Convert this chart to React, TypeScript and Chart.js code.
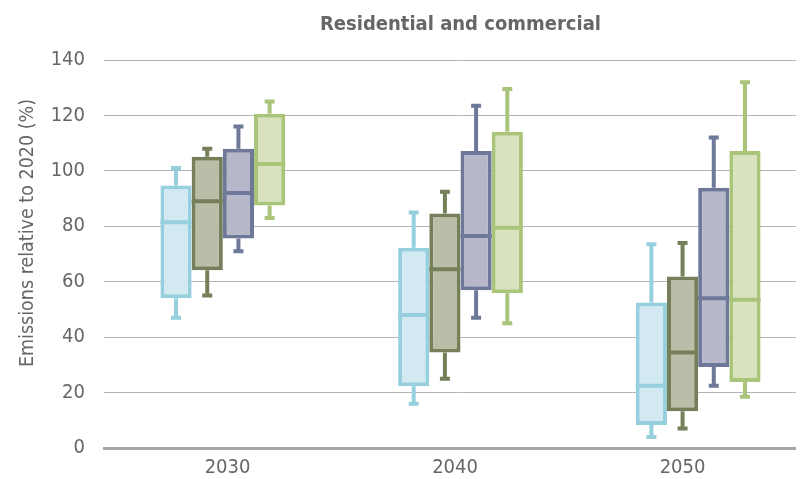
import React, { useEffect, useRef } from 'react';
import { Chart, registerables } from 'chart.js';

Chart.register(...registerables);

const categories = ['2030', '2040', '2050'];
const seriesNames = ['Series 1', 'Series 2', 'Series 3', 'Series 4'];
const chartTitle = 'Residential and commercial';
const yAxisTitle = 'Emissions relative to 2020 (%)';

// Series 1 (light blue)
const s1Min = [47, 16, 4];
const s1Q1 = [54, 22.3, 8.3];
const s1Median = [81.5, 48, 22.5];
const s1Q3 = [94.7, 72.3, 52.5];
const s1Max = [101, 85, 73.5];

// Series 2 (olive)
const s2Min = [55, 25, 7];
const s2Q1 = [64.1, 34.5, 13.3];
const s2Median = [89, 64.5, 34.5];
const s2Q3 = [105.1, 84.6, 61.9];
const s2Max = [108, 92.5, 74];

// Series 3 (slate)
const s3Min = [71, 47, 22.5];
const s3Q1 = [75.6, 56.9, 29.2];
const s3Median = [92, 76.5, 54];
const s3Q3 = [108, 107.2, 93.9];
const s3Max = [116, 123.5, 112];

// Series 4 (green)
const s4Min = [83, 45, 18.5];
const s4Q1 = [87.5, 55.8, 23.8];
const s4Median = [102.5, 79.5, 53.5];
const s4Q3 = [120.6, 114.1, 107.2];
const s4Max = [125, 129.5, 132];

const yTicks = [0, 20, 40, 60, 80, 100, 120, 140];

const borderColors = ['#96CFDE', '#75805A', '#6E7898', '#AAC47A'];
const fillColors = ['#D2E9F1', '#BABDA8', '#B6B8CA', '#D8E2BE'];

const stats = [
  { min: s1Min, q1: s1Q1, med: s1Median, q3: s1Q3, max: s1Max },
  { min: s2Min, q1: s2Q1, med: s2Median, q3: s2Q3, max: s2Max },
  { min: s3Min, q1: s3Q1, med: s3Median, q3: s3Q3, max: s3Max },
  { min: s4Min, q1: s4Q1, med: s4Median, q3: s4Q3, max: s4Max },
];

const FONT = "'DejaVu Sans Condensed', 'DejaVu Sans', sans-serif";
const TEXT = '#666666';

const whiskerPlugin = {
  id: 'boxWhiskers',
  afterDatasetsDraw(chart: any) {
    const { ctx } = chart;
    const y = chart.scales.y;
    chart.data.datasets.forEach((_ds: any, i: number) => {
      const meta = chart.getDatasetMeta(i);
      const st = stats[i];
      meta.data.forEach((bar: any, j: number) => {
        const { x, width } = bar.getProps(['x', 'width'], true);
        const yMin = y.getPixelForValue(st.min[j]);
        const yQ1 = y.getPixelForValue(st.q1[j]);
        const yMed = y.getPixelForValue(st.med[j]);
        const yQ3 = y.getPixelForValue(st.q3[j]);
        const yMax = y.getPixelForValue(st.max[j]);
        ctx.save();
        ctx.strokeStyle = borderColors[i];
        ctx.lineCap = 'butt';
        ctx.lineWidth = 4;
        ctx.beginPath();
        ctx.moveTo(x, yQ3);
        ctx.lineTo(x, yMax);
        ctx.moveTo(x, yQ1);
        ctx.lineTo(x, yMin);
        ctx.moveTo(x - 5, yMax);
        ctx.lineTo(x + 5, yMax);
        ctx.moveTo(x - 5, yMin);
        ctx.lineTo(x + 5, yMin);
        ctx.moveTo(x - width / 2, yMed);
        ctx.lineTo(x + width / 2, yMed);
        ctx.stroke();
        ctx.restore();
      });
    });
  },
};

// Y axis title, drawn rotated to the left of the axis (slightly above the axis centre, as in the original)
const yTitlePlugin = {
  id: 'yAxisTitle',
  afterDraw(chart: any) {
    const { ctx, chartArea } = chart;
    ctx.save();
    ctx.translate(25, (chartArea.top + chartArea.bottom) / 2 - 21);
    ctx.rotate(-Math.PI / 2);
    ctx.font = `19.5px ${FONT}`;
    ctx.fillStyle = TEXT;
    ctx.textAlign = 'center';
    ctx.textBaseline = 'alphabetic';
    ctx.fillText(yAxisTitle, 0, 0);
    ctx.restore();
  },
};

export default function App() {
  const ref = useRef<HTMLCanvasElement | null>(null);

  useEffect(() => {
    if (!ref.current) return;
    const chart = new Chart(ref.current, {
      type: 'bar',
      data: {
        labels: categories,
        datasets: seriesNames.map((name, i) => ({
          label: name,
          xAxisID: 'x',
          yAxisID: 'y',
          data: categories.map((_c, j) => [stats[i].q1[j], stats[i].q3[j]]),
          backgroundColor: fillColors[i],
          borderColor: borderColors[i],
          borderWidth: 4,
          borderSkipped: false,
          barPercentage: 1,
          categoryPercentage: 0.525,
        })),
      },
      options: {
        responsive: false,
        animation: false,
        layout: { padding: 0 },
        plugins: {
          legend: { display: false },
          tooltip: { enabled: false },
          title: {
            display: true,
            text: chartTitle,
            fullSize: false,
            color: TEXT,
            font: { family: FONT, size: 20, weight: 'bold' },
            padding: { top: 5, bottom: 23 },
          },
        },
        scales: {
          x: {
            type: 'category',
            display: false,
            offset: true,
            grid: { display: false },
          },
          x2: {
            type: 'linear',
            position: 'bottom',
            offset: false,
            min: 0.457,
            max: 3.591,
            afterBuildTicks: (axis: any) => {
              axis.ticks = categories.map((_c, i) => ({ value: i + 1 }));
            },
            afterFit: (s: any) => {
              s.height = 27;
            },
            ticks: {
              autoSkip: false,
              maxRotation: 0,
              padding: 8,
              color: TEXT,
              font: { family: FONT, size: 20 },
              callback: (v: any) => categories[Math.round(v) - 1] ?? '',
            },
            grid: { display: false, drawTicks: false, offset: false },
            border: { display: true, color: '#A6A6A6', width: 3 },
          },
          y: {
            min: 0,
            max: 140,
            afterBuildTicks: (axis: any) => {
              axis.ticks = yTicks.map((v) => ({ value: v }));
            },
            afterFit: (s: any) => {
              s.width = 96;
            },
            ticks: {
              padding: 19,
              color: TEXT,
              font: { family: FONT, size: 20 },
            },
            grid: { color: '#B4B4B4', lineWidth: 1, drawTicks: false },
            border: { display: false },
          },
        },
      },
      plugins: [whiskerPlugin, yTitlePlugin],
    });
    return () => chart.destroy();
  }, []);

  return (
    <div style={{ width: 796, height: 471, overflow: 'hidden' }}>
      <canvas ref={ref} width={809} height={471} style={{ width: 809, height: 471, display: 'block' }} />
    </div>
  );
}
